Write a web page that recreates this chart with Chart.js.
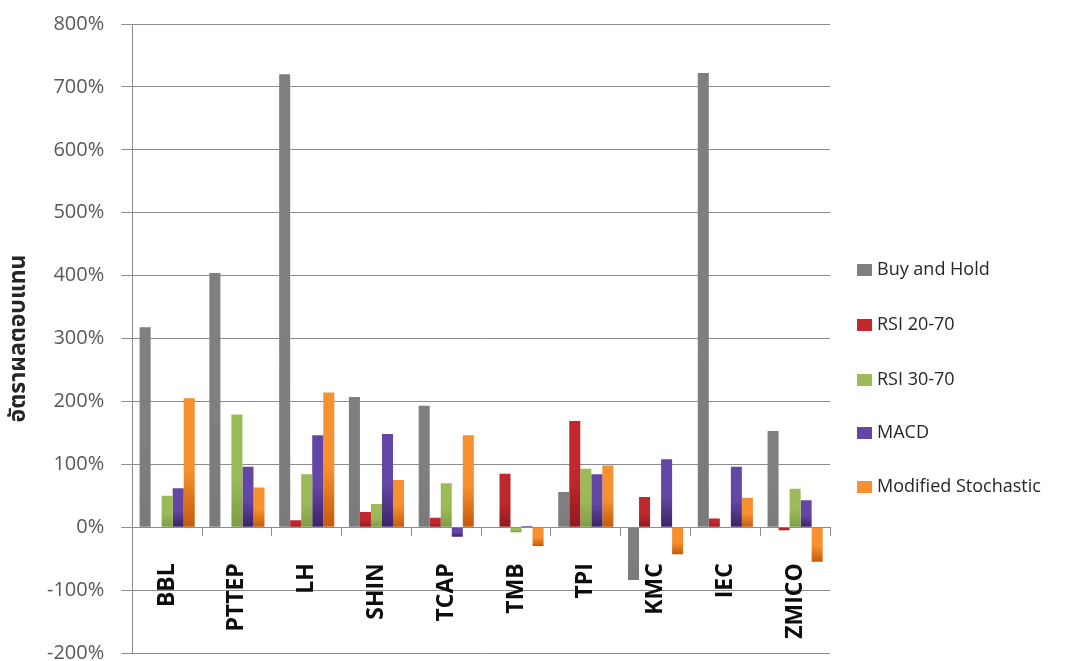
<!DOCTYPE html>
<html>
<head>
<meta charset="utf-8">
<script src="https://cdn.jsdelivr.net/npm/chart.js@4.4.0/dist/chart.umd.min.js"></script>
<style>
  body { margin: 0; background: #fff; }
  #wrap { width: 1072px; height: 661px; }
</style>
</head>
<body>
<div id="wrap"><canvas id="returnChart" width="1072" height="661"></canvas></div>
<script>
// ข้อมูลอัตราผลตอบแทน (%) ของแต่ละหุ้น
const stocks = ['BBL', 'PTTEP', 'LH', 'SHIN', 'TCAP', 'TMB', 'TPI', 'KMC', 'IEC', 'ZMICO'];
const seriesNames = ['Buy and Hold', 'RSI 20-70', 'RSI 30-70', 'MACD', 'Modified Stochastic'];
const buyAndHold = [318, 404, 720, 207, 193, 0, 56, -84, 722, 153];
const rsi2070 = [0, 0, 11, 24, 15, 85, 169, 48, 14, -5];
const rsi3070 = [50, 179, 84, 37, 70, -8, 93, 0, 0, 61];
const macd = [62, 96, 146, 148, -15, 2, 84, 108, 96, 43];
const modStoch = [205, 63, 214, 75, 146, -30, 98, -43, 47, -55];
const yMin = -200, yMax = 800, yStep = 100;

// สีบน / สีล่างของแท่ง (ไล่เฉด)
const topColors = ['#7f7f7f', '#c0282d', '#9bbb59', '#6446a6', '#f7902e'];
const bottomColors = ['#7a7a7a', '#8e1a1e', '#7f9c43', '#3c2268', '#c45a0c'];

function barFill(i) {
  return ctx => {
    const chart = ctx.chart;
    if (!chart.chartArea || ctx.raw === undefined) return topColors[i];
    const y = chart.scales.y;
    const yTop = y.getPixelForValue(Math.max(ctx.raw, 0));
    const yBot = y.getPixelForValue(Math.min(ctx.raw, 0));
    if (yBot - yTop < 1) return topColors[i];
    const g = chart.ctx.createLinearGradient(0, yTop, 0, yBot);
    g.addColorStop(0, topColors[i]);
    g.addColorStop(0.55, topColors[i]);
    g.addColorStop(1, bottomColors[i]);
    return g;
  };
}

// วาด legend เอง ด้านขวา
const sideLegend = {
  id: 'sideLegend',
  afterDraw(chart) {
    const c = chart.ctx;
    const rows = [270, 325, 380, 433, 487];
    c.save();
    c.font = '18px "Open Sans", "Noto Sans", sans-serif';
    c.textBaseline = 'middle';
    seriesNames.forEach((name, i) => {
      c.fillStyle = topColors[i];
      c.fillRect(857, rows[i] - 6, 15, 12);
      c.fillStyle = '#262626';
      c.fillText(name, 877, rows[i]);
    });
    c.restore();
  }
};

const allSeries = [buyAndHold, rsi2070, rsi3070, macd, modStoch];

new Chart(document.getElementById('returnChart').getContext('2d'), {
  type: 'bar',
  data: {
    labels: stocks,
    datasets: allSeries.map((vals, i) => ({
      label: seriesNames[i],
      data: vals,
      backgroundColor: barFill(i),
      borderWidth: 0,
      barPercentage: 1.0,
      categoryPercentage: 0.79
    }))
  },
  options: {
    responsive: false,
    animation: false,
    layout: { padding: { top: 24, right: 242, bottom: 8, left: 0 } },
    plugins: {
      legend: { display: false },
      tooltip: { enabled: false }
    },
    scales: {
      x: {
        position: { y: 0 },
        grid: {
          offset: true,
          drawOnChartArea: false,
          drawTicks: true,
          tickLength: 8,
          color: '#8c8c8c'
        },
        border: { color: '#8c8c8c' },
        ticks: {
          minRotation: 90,
          maxRotation: 90,
          padding: 28,
          color: '#0d0d0d',
          font: { family: '"Open Sans", "Noto Sans", sans-serif', size: 23, weight: 'bold' }
        }
      },
      y: {
        min: yMin,
        max: yMax,
        afterFit: scale => { scale.paddingTop = 0; scale.paddingBottom = 0; },
        grid: { color: '#8c8c8c', tickLength: 11 },
        border: { color: '#8c8c8c' },
        ticks: {
          stepSize: yStep,
          padding: 17,
          color: '#595959',
          font: { family: '"Open Sans", "Noto Sans", sans-serif', size: 20 },
          callback: v => v + '%'
        },
        title: {
          display: true,
          text: 'อัตราผลตอบแทน',
          color: '#262626',
          padding: { top: 7, bottom: 0 },
          font: { family: '"Noto Sans", "Noto Sans Thai", "DejaVu Sans", sans-serif', size: 23, weight: 'bold', lineHeight: 1.0 }
        }
      }
    }
  },
  plugins: [sideLegend]
});
</script>
</body>
</html>
